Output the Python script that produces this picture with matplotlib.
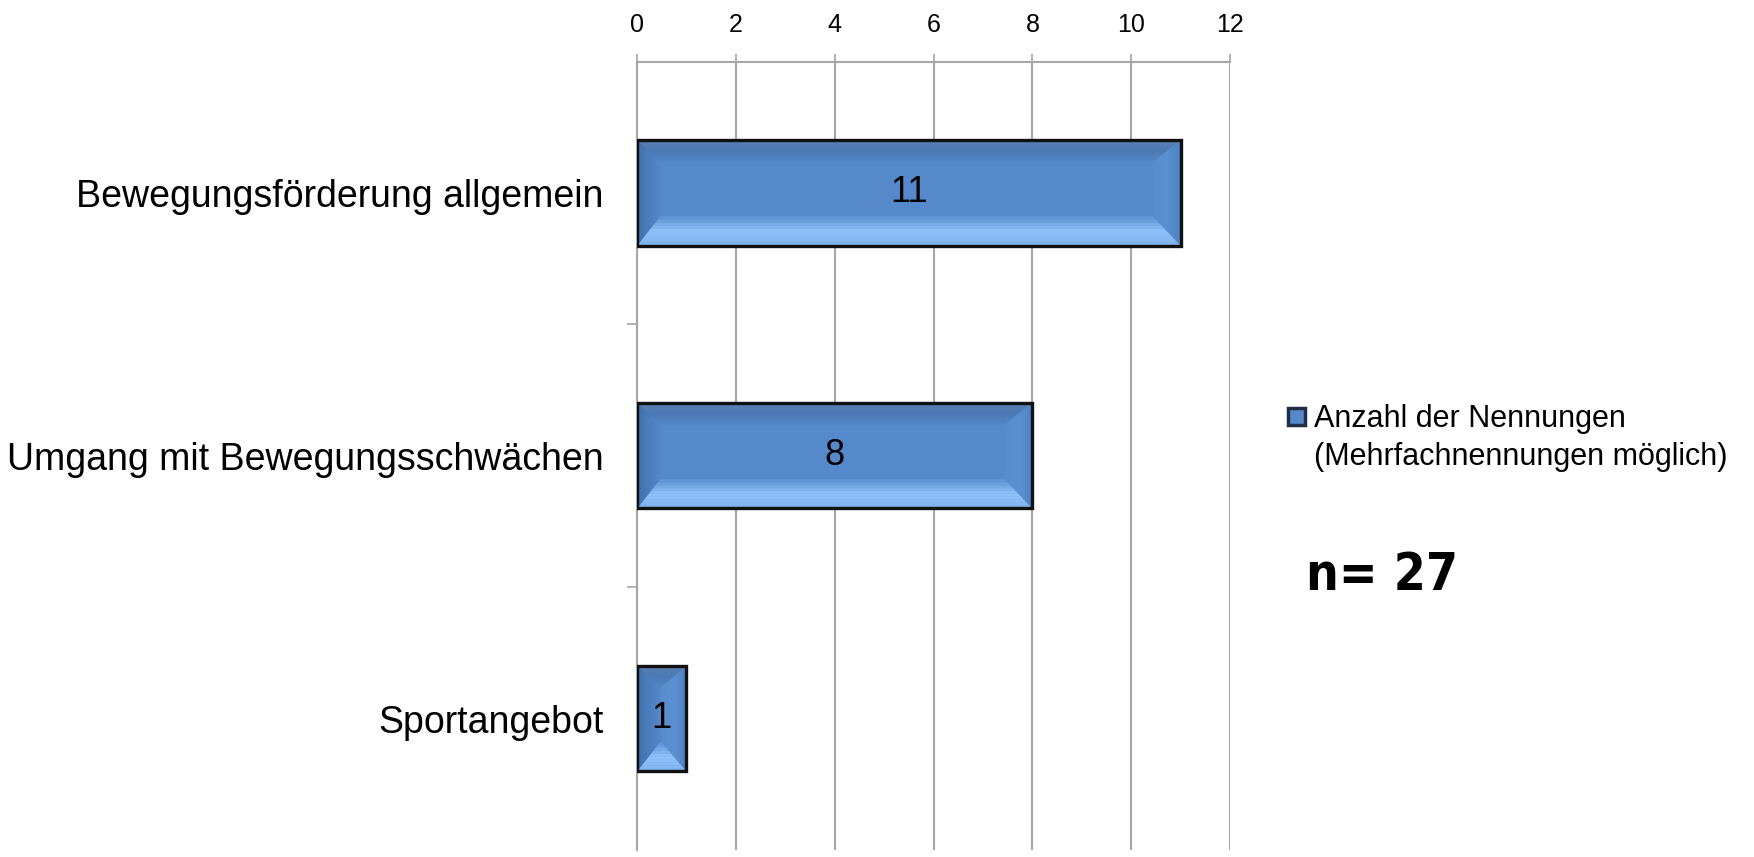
import matplotlib
matplotlib.use("Agg")
import numpy as np
import matplotlib.pyplot as plt
from matplotlib.colors import to_rgb
from matplotlib.patches import Polygon, Rectangle

# --- DATEN ---
kategorien = ["Bewegungsförderung allgemein", "Umgang mit Bewegungsschwächen", "Sportangebot"]
nennungen = [11, 8, 1]
x_ticks = [0, 2, 4, 6, 8, 10, 12]
legende_text = ["Anzahl der Nennungen", "(Mehrfachnennungen möglich)"]
n_text = "n= 27"

plt.rcParams["font.family"] = ["Liberation Sans", "DejaVu Sans"]

GRAU = "#a6a6a6"
BLAU = "#5589cc"
BAR_H = 0.40


def mix(c1, c2, t):
    a, b = np.array(to_rgb(c1)), np.array(to_rgb(c2))
    return tuple(a + (b - a) * t)


def bevel_seite(ax, aussen, innen, farben, n=10):
    """Trapez zwischen Aussenkante und Innenkante mit Farbverlauf (Baender)."""
    aussen, innen = np.array(aussen, float), np.array(innen, float)
    for i in range(n):
        t0, t1 = i / n, (i + 1) / n
        p0 = aussen + (innen - aussen) * t0
        p1 = aussen + (innen - aussen) * t1
        pts = [p0[0], p0[1], p1[1], p1[0]]
        tm = (t0 + t1) / 2
        if tm < 0.5:
            c = mix(farben[0], farben[1], tm / 0.5)
        else:
            c = mix(farben[1], farben[2], (tm - 0.5) / 0.5)
        ax.add_patch(Polygon(pts, closed=True, facecolor=c, edgecolor=c,
                             linewidth=0.3, zorder=4))


fig = plt.figure(figsize=(17.54, 8.57), dpi=100)
ax = fig.add_axes([0.3632, 0.0082, 0.3381, 0.9200])

y = list(range(len(kategorien)))
ax.barh(y, nennungen, height=BAR_H, color=BLAU, edgecolor="none", zorder=3)

# Abgeschraegte Kanten (Bevel) aus den Balkenwerten berechnet
for yi, v in zip(y, nennungen):
    bx_l = min(0.46, v / 2.0)
    bx_r = min(0.55, v / 2.0)
    by_o, by_u = 0.08, 0.11
    top, bot = yi - BAR_H / 2, yi + BAR_H / 2
    # oben: dunkel
    bevel_seite(ax, [(0, top), (v, top)], [(bx_l, top + by_o), (v - bx_r, top + by_o)],
                ["#5b80b1", "#4a78b3", "#5286c8"])
    # unten: hell glaenzend
    bevel_seite(ax, [(0, bot), (v, bot)], [(bx_l, bot - by_u), (v - bx_r, bot - by_u)],
                ["#80b3ee", "#90c2fb", "#5d91d3"])
    # links
    bevel_seite(ax, [(0, top), (0, bot)], [(bx_l, top + by_o), (bx_l, bot - by_u)],
                ["#3e6ea8", "#4a7cbc", "#5587c8"])
    # rechts
    bevel_seite(ax, [(v, top), (v, bot)], [(v - bx_r, top + by_o), (v - bx_r, bot - by_u)],
                ["#4d82c2", "#5b8fcf", "#5a8ccc"])
    ax.add_patch(Rectangle((0, top), v, BAR_H, facecolor="none", edgecolor="#111111",
                           linewidth=2.4, zorder=5))
    ax.text(v / 2.0, yi, str(v), ha="center", va="center", fontsize=26, zorder=6)

ax.set_xlim(0, 12)
ax.set_ylim(len(kategorien) - 0.5, -0.5)
ax.set_xticks(x_ticks)
ax.xaxis.tick_top()
ax.tick_params(axis="x", direction="out", length=6, width=1.2, color=GRAU,
               labelsize=18, pad=12)
ax.set_yticks(y)
ax.set_yticklabels(kategorien, fontsize=27)
ax.tick_params(axis="y", which="major", length=0, pad=24)
ax.set_yticks([0.5, 1.5], minor=True)
ax.tick_params(axis="y", which="minor", length=7, width=1.2, color=GRAU)

ax.grid(axis="x", color=GRAU, linewidth=1.5, zorder=0)
ax.set_axisbelow(True)
for s in ["right", "bottom"]:
    ax.spines[s].set_visible(False)
for s in ["top", "left"]:
    ax.spines[s].set_color(GRAU)
    ax.spines[s].set_linewidth(1.5)

# Legende (manuell, Symbol an der ersten Zeile)
fig.patches.append(Rectangle((1288 / 1754, 1 - 425 / 857), 17 / 1754, 17 / 857,
                             transform=fig.transFigure, facecolor=BLAU,
                             edgecolor="#1f2f45", linewidth=2.5))
fig.text(1314 / 1754, 1 - 419 / 857, legende_text[0], fontsize=22, va="center", ha="left")
fig.text(1314 / 1754, 1 - 457 / 857, legende_text[1], fontsize=22, va="center", ha="left")

fig.text(1306 / 1754, 1 - 590 / 857, n_text, fontsize=37, fontweight="bold",
         fontstretch="condensed", family=["DejaVu Sans"], va="baseline", ha="left")

fig.savefig("out.png", dpi=100)
